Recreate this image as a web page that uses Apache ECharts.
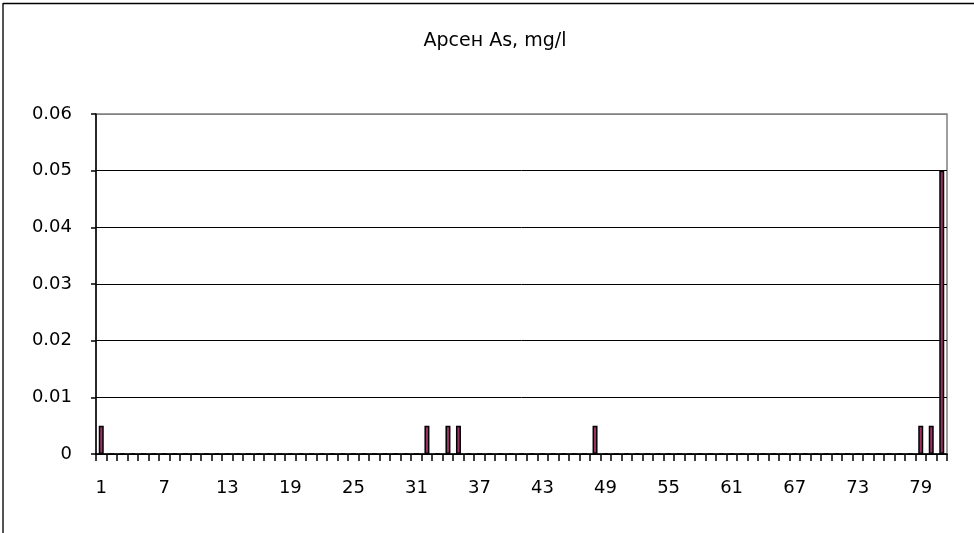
<!DOCTYPE html>
<html>
<head>
<meta charset="utf-8">
<script src="https://cdn.jsdelivr.net/npm/echarts@6/dist/echarts.min.js"></script>
<style>html,body{margin:0;padding:0;background:#fff}#c{width:974px;height:533px}</style>
</head>
<body>
<div id="c"></div>
<script>
var titleText = 'Арсен As, mg/l';
var categories = [];
for (var i = 1; i <= 81; i++) categories.push(String(i));
// non-zero readings (sample number -> value)
var sampleIds = [1, 32, 34, 35, 48, 79, 80, 81];
var sampleVals = [0.005, 0.005, 0.005, 0.005, 0.005, 0.005, 0.005, 0.05];
var values = categories.map(function () { return 0; });
sampleIds.forEach(function (id, k) { values[id - 1] = sampleVals[k]; });

var FONT = 'DejaVu Sans, sans-serif';
var chart = echarts.init(document.getElementById('c'));
chart.setOption({
  animation: false,
  backgroundColor: '#fff',
  title: {
    text: titleText, left: 490, top: 27, textAlign: 'center',
    textStyle: { fontFamily: FONT, fontSize: 19, fontWeight: 'normal', color: '#000' }
  },
  graphic: [
    { type: 'line', shape: { x1: 3, y1: 3, x2: 3, y2: 533 }, style: { stroke: '#555', lineWidth: 2 } },
    { type: 'line', shape: { x1: 3, y1: 3.5, x2: 974, y2: 3.5 }, style: { stroke: '#000', lineWidth: 1.5 } }
  ],
  grid: { left: 96, right: 27, top: 114, bottom: 79, show: true, borderColor: '#808080', borderWidth: 1.5 },
  xAxis: {
    type: 'category', data: categories, boundaryGap: true,
    axisLine: { lineStyle: { color: '#000', width: 1.5 } },
    axisTick: { show: true, alignWithLabel: false, interval: 0, length: 7, lineStyle: { color: '#000', width: 1.5 } },
    axisLabel: { interval: 5, margin: 25, fontFamily: FONT, fontSize: 18, color: '#000' }
  },
  yAxis: {
    type: 'value', min: 0, max: 0.06, interval: 0.01,
    axisLine: { show: true, lineStyle: { color: '#000', width: 1.5 } },
    axisTick: { show: true, length: 5, lineStyle: { color: '#000', width: 1.5 } },
    axisLabel: { margin: 24, fontFamily: FONT, fontSize: 18, color: '#000',
      formatter: function (v) { return v === 0 ? '0' : v.toFixed(2); } },
    splitLine: { show: true, lineStyle: { color: ['#000', '#000', '#000', '#000', '#000', '#000', '#808080'], width: 1 } }
  },
  series: [{
    type: 'bar', data: values, barWidth: 5,
    itemStyle: { color: '#993366', borderColor: '#000', borderWidth: 1.5 }
  }]
});
</script>
</body>
</html>
